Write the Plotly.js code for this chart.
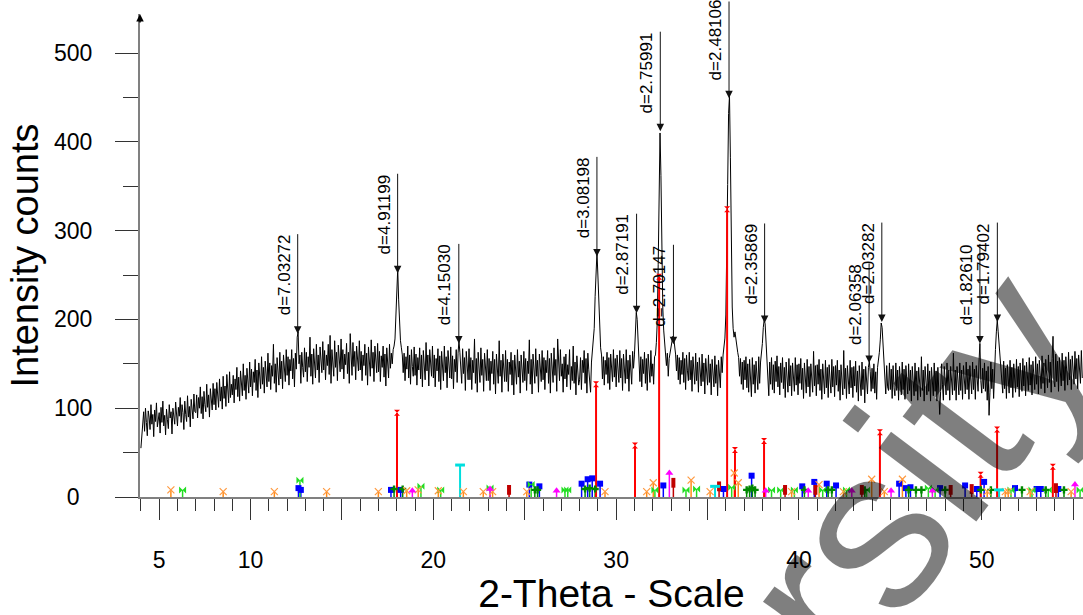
<!DOCTYPE html>
<html><head><meta charset="utf-8">
<script src="https://cdn.plot.ly/plotly-3.0.1.min.js"></script>
<style>html,body{margin:0;padding:0;background:#fff}#chart{width:1083px;height:615px}</style>
</head><body><div id="chart"></div>
<script>
// ---- scan (2-Theta from 4.00 to 55.50, step 0.05) ----
const scanStart = 4.0;
const scanStep = 0.05;
const intensity = [
 55, 70, 88, 96, 74,100, 84, 69, 97, 90, 76,104, 82, 93, 68, 98, 85,106, 79, 91,
 95, 72,101, 84,108, 80, 92, 70, 99, 87, 77,104, 89, 96, 71,100, 86, 82,107, 88,
 80,101, 91,112, 84,104, 95, 76,108, 93, 85,114, 90,102, 79,110, 97, 88,116, 96,
 95,115, 89,112,100,124, 94,113, 88,119,104, 96,127,101,115, 90,122,108, 98,128,
104,122, 98,129,112,101,133,108,124, 99,136,111,125,102,138,117,106,141,112,127,
115,137,106,133,121,146,113,135,108,142,124,114,150,120,137,110,145,128,117,152,
124,144,114,141,129,155,120,143,112,151,132,122,158,127,146,117,153,136,124,162,
130,151,121,148,136,172,128,150,118,157,139,126,163,133,153,122,160,142,130,166,
137,158,126,155,142,166,133,156,124,162,144,180,186,150,160,128,163,146,135,168,
141,163,130,158,146,180,136,161,127,167,149,134,172,143,160,129,169,152,140,175,
143,165,132,160,148,172,138,182,128,166,151,136,176,146,163,131,171,154,141,178,
144,166,133,161,149,173,139,163,128,184,152,137,174,147,164,132,170,155,142,176,
143,164,131,160,148,172,137,162,126,169,151,136,177,145,163,130,170,154,140,173,
141,164,130,159,146,170,135,161,125,168,149,134,172,145,162,150,166,170,178,202,
240,257,222,192,176,168,160,140,162,131,158,144,170,134,160,127,166,147,136,169,
137,161,126,157,143,168,133,160,124,165,147,132,174,142,160,125,166,150,136,170,
134,160,124,156,142,167,130,159,121,164,146,131,170,140,158,123,165,149,134,169,
133,159,122,155,141,166,129,162,176,163,143,128,167,139,157,120,164,148,132,167,
132,157,121,154,140,178,128,156,118,163,144,129,168,137,155,119,162,146,131,166,
131,156,120,153,139,164,127,155,116,161,143,128,176,136,154,118,161,145,130,165,
130,155,119,152,138,163,126,154,115,160,142,127,166,135,153,117,160,144,129,164,
131,156,120,153,139,177,127,155,116,161,143,128,167,136,154,118,161,145,130,165,
132,157,121,154,140,165,128,156,117,162,144,129,168,137,155,119,178,146,131,166,
136,150,118,158,133,161,124,149,138,166,121,147,131,170,128,152,115,159,141,126,
132,157,121,154,140,165,128,156,117,162,144,129,118,152,162,172,190,226,258,276,
250,213,184,168,160,133,158,126,154,138,163,128,157,121,161,142,130,166,135,156,
124,160,140,129,165,134,156,120,161,143,128,166,133,154,119,160,141,127,164,145,
160,180,208,200,170,148,130,158,124,155,139,163,128,156,120,161,142,129,165,136,
150,127,158,160,174,198,262,352,410,362,272,214,188,174,166,148,162,136,156,163,
168,174,181,179,170,161,142,160,132,157,127,154,138,163,129,156,121,160,142,131,
163,132,154,119,158,141,127,162,131,152,118,157,139,125,161,130,151,116,156,140,
126,160,129,150,115,155,138,124,159,128,149,114,154,137,123,158,140,160,167,179,
205,262,352,432,452,382,282,214,190,180,186,176,172,163,157,136,156,127,152,121,
154,132,158,123,150,118,155,135,113,157,127,149,117,153,133,121,158,128,152,160,
173,191,200,195,174,154,132,114,152,127,157,121,149,117,153,130,159,124,147,115,
151,129,157,122,146,112,152,128,118,156,125,148,114,151,130,119,157,126,149,115,
150,128,156,121,145,111,151,127,117,155,124,147,113,150,129,118,164,125,148,114,
149,127,155,120,144,110,150,126,116,154,123,146,112,149,128,117,155,124,147,113,
148,126,154,119,143,109,149,125,115,165,122,145,111,148,127,116,154,123,146,112,
147,125,153,118,142,108,148,124,114,152,121,144,106,147,126,116,146,153,141,119,
145,122,150,117,141,110,146,154,163,177,196,191,171,156,132,116,148,124,120,151,
121,144,111,148,123,114,151,120,143,109,147,124,115,152,121,144,110,148,125,116,
150,120,143,108,147,123,114,151,119,142,109,146,122,113,158,120,143,108,147,124,
115,150,119,142,108,146,123,114,151,119,142,108,146,123, 93,119,150,127,109,147,
124,115,151,120,143,109,147,124,115,162,120,143,109,147,124,115,151,120,143,110,
148,125,116,152,121,144,110,148,125,116,152,121,144,110,148,125,119,152,173,131,
117,145,122,151,119,142,109,147, 92,118,152,122,144,111,152,166,186,199,186,170,
160,149,124,117,153,122,145,111,149,126,117,154,123,146,112,150,127,118,155,124,
147,113,151,128,119,156,125,148,114,152,129,120,157,126,149,115,153,130,121,158,
127,150,116,154,131,122,159,128,151,117,155,132,123,160,129,152,118,156,181,130,
124,161,130,153,119,157,133,125,162,131,154,120,158,134,126,163,132,155,121,159,
135,127,164,133,156,122,160,136,128,165,134
];
const twoTheta = intensity.map((_, i) => +(scanStart + i * scanStep).toFixed(2));

// ---- labelled peaks ----
const peakLabels = ['d=7.03272','d=4.91199','d=4.15030','d=3.08198','d=2.87191','d=2.75991','d=2.70147','d=2.48106','d=2.35869','d=2.06358','d=2.03282','d=1.82610','d=1.79402'];
const peakTheta  = [12.577, 18.045, 21.392, 28.948, 31.117, 32.414, 33.134, 36.175, 38.122, 43.838, 44.534, 49.900, 50.854];
const peakMark   = [184, 252, 173, 271, 207, 412, 172, 449, 196, 151, 197, 173, 197];

// ---- reference pattern sticks ----
const redPos = [18.01, 28.90, 31.03, 32.35, 36.07, 36.50, 38.09, 44.43, 49.94, 50.84, 53.89];
const redHgt = [95, 127, 58, 248, 324, 53, 63, 73, 25, 76, 34];

const bluePos = [12.62, 12.75, 17.68, 18.21, 25.25, 25.80, 28.11, 28.44, 28.69, 29.12, 32.58, 35.87, 37.41, 40.18, 40.84, 41.52, 42.03, 45.48, 45.85, 46.10, 47.72, 49.09, 49.73, 50.13, 51.82, 53.00, 53.23, 54.19];
const blueHgt = [10, 8, 8, 8, 14, 12, 15, 20, 21, 15, 13, 9, 24, 12, 17, 15, 13, 15, 10, 11, 10, 13, 9, 17, 10, 9, 9, 9];

const greenPos = [6.28, 12.70, 19.32, 20.40, 23.10, 25.35, 27.20, 27.35, 32.12, 33.82, 34.40, 36.32, 38.50, 39.00, 39.75, 41.30, 42.60, 43.70, 47.08, 47.45, 51.60, 52.75, 53.64, 55.38];
const greenHgt = [8, 19, 12, 8, 10, 14, 8, 8, 8, 8, 9, 11, 8, 8, 8, 8, 8, 8, 10, 8, 8, 8, 8, 8];

const dkGreenPos = [17.85, 18.32, 25.55, 25.70, 28.30, 28.55, 28.85, 37.14, 37.30, 37.45, 37.60, 40.30, 41.60, 41.80, 43.60, 46.00, 46.40, 46.70, 48.00, 49.95, 50.50, 52.20, 53.50, 54.50];
const dkGreenHgt = [9, 9, 8, 8, 9, 10, 9, 8, 9, 10, 8, 8, 8, 8, 8, 8, 8, 8, 8, 8, 8, 8, 8, 8];

const orangePos = [5.64, 8.50, 11.30, 14.16, 16.99, 18.54, 19.17, 20.27, 21.64, 22.73, 23.24, 25.11, 29.39, 31.67, 32.03, 34.10, 35.14, 36.46, 36.68, 39.60, 41.10, 42.43, 43.98, 44.67, 45.66, 50.30, 51.29, 51.45, 52.65, 54.89];
const orangeHgt = [8, 6, 6, 6, 6, 7, 8, 7, 6, 6, 6, 6, 6, 6, 16, 19, 6, 27, 16, 6, 14, 6, 20, 6, 20, 6, 6, 6, 6, 6];

const magentaPos = [18.85, 23.10, 26.74, 32.91, 38.18, 40.51, 42.89, 45.04, 47.30, 55.10];
const magentaHgt = [7, 9, 7, 27, 7, 7, 7, 7, 7, 14];

const dkRedPos = [24.14, 33.13, 35.63, 39.24, 40.90, 43.44, 48.30, 49.45, 54.06];
const dkRedHgt = [8, 16, 12, 8, 8, 8, 8, 9, 10];

const cyanPos = [21.46, 35.41, 50.95];
const cyanHgt = [36, 12, 8];

// ---- axes ----
const xTickVals = [5, 10, 15, 20, 25, 30, 35, 40, 45, 50, 55];
const xTickText = ['5', '10', '', '20', '', '30', '', '40', '', '50', ''];
const yTickVals = [0, 100, 200, 300, 400, 500];
const yTickText = ['\u20070\u2007', '100', '200', '300', '400', '500'];

function sticks(pos, hgt, color, width) {
  const xs = [], ys = [];
  pos.forEach((p, i) => { xs.push(p, p, null); ys.push(0, hgt[i], null); });
  return {type: 'scatter', mode: 'lines', x: xs, y: ys, line: {color: color, width: width}, hoverinfo: 'skip', showlegend: false};
}
function tops(pos, hgt, symbol, size, color, lw) {
  return {type: 'scatter', mode: 'markers', x: pos, y: hgt, hoverinfo: 'skip', showlegend: false,
    marker: {symbol: symbol, size: size, color: color, line: {color: color, width: lw}}};
}

const traces = [
  {type: 'scatter', mode: 'lines', x: twoTheta, y: intensity, line: {color: '#000', width: 1}, hoverinfo: 'skip', showlegend: false},
  sticks(bluePos, blueHgt, '#0000ff', 1.5),
  sticks(greenPos, greenHgt, '#22dd22', 1.5),
  sticks(dkGreenPos, dkGreenHgt, '#008800', 1.5),
  sticks(orangePos, orangeHgt, '#ff8c1a', 1.5),
  sticks(magentaPos, magentaHgt, '#ff00ff', 1.5),
  sticks(dkRedPos, dkRedHgt, '#c00000', 1.5),
  sticks(cyanPos, cyanHgt, '#00dede', 2),
  sticks(redPos, redHgt, '#ff0000', 2),
  tops(bluePos, blueHgt, 'square', 6, '#0000ff', 0),
  tops(greenPos, greenHgt, 'bowtie', 7, '#22dd22', 0),
  tops(dkGreenPos, dkGreenHgt, 'cross', 6, '#008800', 0),
  tops(orangePos, orangeHgt, 'x-thin-open', 7, '#ff9a40', 1.2),
  tops(magentaPos, magentaHgt, 'triangle-up', 7, '#ff00ff', 0),
  tops(dkRedPos, dkRedHgt, 'line-ns-open', 7, '#c00000', 4),
  tops(cyanPos, cyanHgt, 'line-ew-open', 7, '#00dede', 3),
  tops(redPos, redHgt, 'hourglass', 6, '#ff0000', 0)
];

const annotations = [];
peakLabels.forEach((lab, i) => {
  annotations.push({x: peakTheta[i], y: peakMark[i], xref: 'x', yref: 'y', text: '', showarrow: true,
    ax: 0, ay: -101, arrowhead: 2, arrowsize: 1.5, arrowwidth: 1, arrowcolor: '#111'});
  annotations.push({x: peakTheta[i], y: peakMark[i], xref: 'x', yref: 'y', text: lab, showarrow: false,
    textangle: -90, xanchor: 'right', yanchor: 'top', xshift: -2, yshift: 101,
    font: {family: 'Liberation Sans, Arial, sans-serif', size: 17, color: '#000'}});
});
// y-axis arrow tip
annotations.push({x: 0, y: 1, xref: 'paper', yref: 'paper', text: '', showarrow: true, ax: 0, ay: 10,
  arrowhead: 2, arrowsize: 1, arrowwidth: 1.5, arrowcolor: '#000'});
// watermark
annotations.push({x: 0.8218, y: 0.0559, xref: 'paper', yref: 'paper', text: 'rsity', showarrow: false,
  textangle: -53, xanchor: 'center', yanchor: 'middle',
  font: {family: 'Liberation Sans, Arial, sans-serif', size: 231, color: 'rgba(0,0,0,0.5)'}});

const layout = {
  width: 1083, height: 615,
  margin: {l: 140, r: 0, t: 14, b: 118, pad: 0},
  paper_bgcolor: '#fff', plot_bgcolor: '#fff',
  showlegend: false,
  font: {family: 'Liberation Sans, Arial, sans-serif', color: '#000'},
  xaxis: {
    range: [3.95, 55.54], showgrid: false, zeroline: false,
    showline: true, linecolor: '#808080', linewidth: 2,
    ticks: 'outside', ticklen: 21, tickwidth: 1, tickcolor: '#333',
    tickmode: 'array', tickvals: xTickVals, ticktext: xTickText,
    tickfont: {size: 23}, ticklabelstandoff: 20,
    minor: {dtick: 1, tick0: 0, ticks: 'outside', ticklen: 12, tickcolor: '#333', tickwidth: 1, showgrid: false},
    title: {text: '2-Theta - Scale', font: {size: 39}, standoff: 12}
  },
  yaxis: {
    range: [0, 544], showgrid: false, zeroline: false,
    showline: true, linecolor: '#808080', linewidth: 2,
    ticks: 'outside', ticklen: 23, tickwidth: 1, tickcolor: '#333',
    tickmode: 'array', tickvals: yTickVals, ticktext: yTickText,
    tickfont: {size: 23}, ticklabelstandoff: 18,
    minor: {dtick: 50, tick0: 0, ticks: 'outside', ticklen: 15, tickcolor: '#333', tickwidth: 1, showgrid: false},
    title: {text: 'Intensity counts', font: {size: 38}, standoff: 4}
  },
  annotations: annotations
};

Plotly.newPlot('chart', traces, layout, {displayModeBar: false, staticPlot: true});
</script>
</body></html>
